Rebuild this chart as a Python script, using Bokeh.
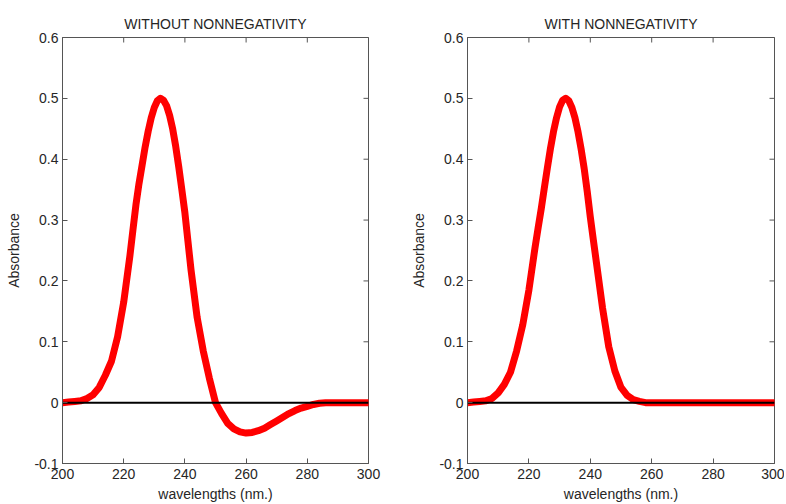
import math
from bokeh.plotting import figure
from bokeh.layouts import row
from bokeh.models import Range1d, FixedTicker
from bokeh.embed import file_html
from bokeh.resources import INLINE

wavelengths = [200, 202, 204, 206, 208, 210, 212, 214, 216, 218, 220,
               222, 223, 224, 225, 226, 227, 228, 229, 230, 231, 232, 233, 234, 235,
               236, 237, 238, 239, 240, 241, 242,
               244, 246, 248, 250, 252, 254, 256, 258, 260, 262, 264, 266, 268, 270,
               272, 274, 276, 278, 280, 282, 284, 286, 288, 290, 292, 294, 296, 298, 300]

absorb_without = [0.000, 0.001, 0.002, 0.003, 0.007, 0.013, 0.025, 0.045, 0.068, 0.108, 0.165,
                  0.240, 0.283, 0.325, 0.360, 0.390, 0.420, 0.446, 0.468, 0.485, 0.496, 0.500,
                  0.497, 0.488, 0.472, 0.450, 0.421, 0.387, 0.350, 0.312, 0.265, 0.218,
                  0.140, 0.085, 0.040, 0.000, -0.018, -0.034, -0.043, -0.048, -0.050, -0.049,
                  -0.046, -0.042, -0.036, -0.030, -0.024, -0.018, -0.013, -0.009, -0.006,
                  -0.003, -0.001, 0.000, 0.000, 0.000, 0.000, 0.000, 0.000, 0.000, 0.000]

absorb_with = [0.000, 0.001, 0.002, 0.003, 0.007, 0.016, 0.030, 0.050, 0.085, 0.128, 0.185,
               0.255, 0.287, 0.318, 0.352, 0.385, 0.417, 0.445, 0.468, 0.486, 0.497, 0.500,
               0.496, 0.485, 0.468, 0.445, 0.417, 0.385, 0.347, 0.305, 0.267, 0.230,
               0.155, 0.092, 0.052, 0.025, 0.012, 0.005, 0.002, 0.000, 0.000, 0.000,
               0.000, 0.000, 0.000, 0.000, 0.000, 0.000, 0.000, 0.000, 0.000,
               0.000, 0.000, 0.000, 0.000, 0.000, 0.000, 0.000, 0.000, 0.000, 0.000]

zero_x = [200, 300]
zero_y = [0, 0]

titles = ["WITHOUT NONNEGATIVITY", "WITH NONNEGATIVITY"]
x_ticks = [200, 220, 240, 260, 280, 300]
y_ticks = [-0.1, 0, 0.1, 0.2, 0.3, 0.4, 0.5, 0.6]
y_tick_labels = {-0.1: "-0.1", 0: "0", 0.1: "0.1", 0.2: "0.2", 0.3: "0.3",
                 0.4: "0.4", 0.5: "0.5", 0.6: "0.6"}

FONT = "Liberation Sans"
TXT = "#262626"
AX = "#555555"


def style_axis(ax, ticks):
    ax.ticker = FixedTicker(ticks=ticks)
    ax.major_tick_in = 5
    ax.major_tick_out = 0
    ax.minor_tick_in = 0
    ax.minor_tick_out = 0
    ax.axis_line_color = AX
    ax.major_tick_line_color = AX
    ax.major_label_text_font = FONT
    ax.major_label_text_font_size = "14px"
    ax.major_label_text_color = TXT
    ax.major_label_standoff = 4
    ax.axis_label_text_font = FONT
    ax.axis_label_text_font_size = "14px"
    ax.axis_label_text_font_style = "normal"
    ax.axis_label_text_color = TXT


def make(title, yvals, w, bl, br):
    p = figure(width=w, height=504, output_backend="svg", toolbar_location=None,
               x_range=Range1d(x_ticks[0], x_ticks[-1]),
               y_range=Range1d(y_ticks[0], y_ticks[-1]),
               min_border_left=bl, min_border_right=br, min_border_top=37,
               min_border_bottom=40, x_axis_label="wavelengths (nm.)",
               y_axis_label="Absorbance")
    p.title.text = title
    p.title.text_font = FONT
    p.title.text_font_size = "14px"
    p.title.text_font_style = "normal"
    p.title.text_color = TXT
    p.title.align = "center"
    p.title.standoff = 12
    p.xgrid.visible = False
    p.ygrid.visible = False
    p.outline_line_color = AX
    p.background_fill_color = "white"
    p.border_fill_color = "white"

    style_axis(p.xaxis[0], x_ticks)
    style_axis(p.yaxis[0], y_ticks)
    p.yaxis[0].major_label_overrides = y_tick_labels
    p.xaxis[0].major_label_standoff = 5
    p.xaxis[0].axis_label_standoff = 4
    p.yaxis[0].axis_label_standoff = 9

    # inward ticks on the top and right edges of the box (clipped to frame)
    p.scatter(x_ticks, [y_ticks[-1]] * len(x_ticks), marker="dash", size=10,
              angle=math.pi / 2, line_color=AX, line_width=1)
    p.scatter([x_ticks[-1]] * len(y_ticks), y_ticks, marker="dash", size=10,
              line_color=AX, line_width=1)

    p.line(wavelengths, yvals, line_color="#ff0000", line_width=7,
           line_join="round", line_cap="round")
    p.line(zero_x, zero_y, line_color="black", line_width=2)
    return p


p1 = make(titles[0], absorb_without, 400, 62, 32)
p2 = make(titles[1], absorb_with, 384, 67, 10)

layout = row(p1, p2)
open("out.html", "w").write(file_html(layout, INLINE))
